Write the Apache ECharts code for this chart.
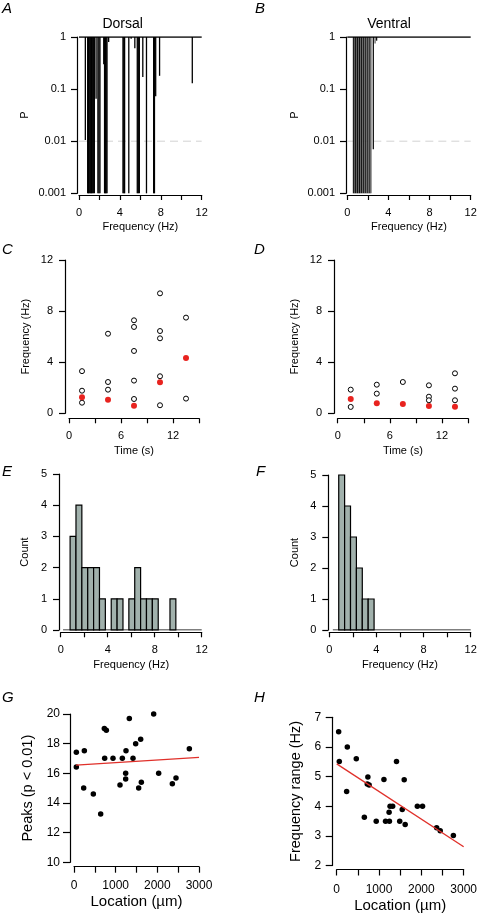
<!DOCTYPE html>
<html>
<head>
<meta charset="utf-8">
<script src="https://cdn.jsdelivr.net/npm/echarts@6/dist/echarts.min.js"></script>
<style>
html,body{margin:0;padding:0;background:#fff;}
#chart{width:480px;height:914px;}
</style>
</head>
<body>
<div id="chart"></div>
<script>
// ---------------- DATA ----------------
// Panel A (Dorsal): frequency (Hz) and P value of each peak line
const dorsalFreq = [0.62, 0.85, 0.92, 1.0, 1.08, 1.15, 1.22, 1.3, 1.4, 1.5, 1.67, 1.85, 1.95, 2.05, 2.42, 2.5, 2.58, 2.66, 2.74, 2.9, 4.3, 4.38, 4.46, 4.87, 5.1, 5.46, 5.7, 5.8, 5.9, 6.24, 6.6, 7.3, 7.38, 7.5, 7.88, 11.08];
const dorsalP    = [0.0105, 0.001, 0.001, 0.001, 0.001, 0.001, 0.001, 0.001, 0.001, 0.001, 0.065, 0.001, 0.001, 0.001, 0.3, 0.001, 0.001, 0.001, 0.001, 0.8, 0.001, 0.001, 0.001, 0.001, 0.93, 0.61, 0.001, 0.001, 0.001, 0.17, 0.001, 0.001, 0.001, 0.073, 0.18, 0.13];
// Panel B (Ventral)
const ventralFreq = [0.6, 0.7, 0.8, 0.9, 1.0, 1.1, 1.2, 1.3, 1.4, 1.5, 1.6, 1.7, 1.8, 1.9, 2.0, 2.1, 2.2, 2.3, 2.53, 2.7, 2.85];
const ventralP    = [0.001, 0.001, 0.001, 0.001, 0.001, 0.001, 0.001, 0.001, 0.001, 0.001, 0.001, 0.001, 0.001, 0.001, 0.001, 0.001, 0.001, 0.001, 0.007, 0.75, 0.85];
const pTicks = [0.001, 0.01, 0.1, 1];
const pThreshold = 0.01;

// Panel C (Dorsal): time (s) vs frequency (Hz)
const cOpenTime = [1.5, 1.5, 1.5, 4.5, 4.5, 4.5, 7.5, 7.5, 7.5, 7.5, 7.5, 10.5, 10.5, 10.5, 10.5, 10.5, 13.5, 13.5];
const cOpenFreq = [3.3, 1.77, 0.83, 6.23, 2.45, 1.85, 7.28, 6.76, 4.88, 2.56, 1.12, 9.39, 6.44, 5.87, 2.9, 0.63, 7.49, 1.15];
const cRedTime  = [1.5, 4.5, 7.5, 10.5, 13.5];
const cRedFreq  = [1.25, 1.07, 0.6, 2.43, 4.33];
// Panel D (Ventral)
const dOpenTime = [1.5, 1.5, 4.5, 4.5, 7.5, 10.5, 10.5, 10.5, 13.5, 13.5, 13.5];
const dOpenFreq = [1.85, 0.5, 2.24, 1.54, 2.45, 2.19, 1.3, 1.02, 3.13, 1.93, 1.02];
const dRedTime  = [1.5, 4.5, 7.5, 10.5, 13.5];
const dRedFreq  = [1.12, 0.78, 0.73, 0.57, 0.52];

// Panels E/F histograms: bin left edges (Hz), bin width, counts
const binWidth = 0.5;
const eBinStart = [0.8, 1.3, 1.8, 2.3, 2.8, 3.3, 3.8, 4.3, 4.8, 5.3, 5.8, 6.3, 6.8, 7.3, 7.8, 8.3, 8.8, 9.3];
const eCounts   = [3, 4, 2, 2, 2, 1, 0, 1, 1, 0, 1, 2, 1, 1, 1, 0, 0, 1];
const fBinStart = [0.8, 1.3, 1.8, 2.3, 2.8, 3.3];
const fCounts   = [5, 4, 3, 2, 1, 1];
const eBaseline = [[0.2, 0], [12, 0]];
const fBaseline = [[0.3, 0], [12, 0]];

// Panel G: location (µm) vs peaks
const gLoc   = [56, 56, 248, 232, 464, 640, 728, 776, 736, 936, 1104, 1160, 1248, 1240, 1240, 1328, 1416, 1480, 1552, 1600, 1616, 1912, 2032, 2360, 2448, 2768];
const gPeaks = [16.43, 17.42, 17.53, 15.01, 14.6, 13.26, 19.03, 18.9, 17.01, 17.01, 15.21, 17.01, 17.53, 16.0, 15.62, 19.69, 17.01, 18.0, 15.01, 18.29, 15.39, 20.0, 16.0, 15.3, 15.69, 17.66];
const gFit = [[48, 16.55], [3000, 17.07]];
// Panel H: location (µm) vs frequency range (Hz)
const hLoc   = [46, 61, 251, 235, 463, 653, 737, 722, 767, 934, 1116, 1154, 1238, 1246, 1261, 1322, 1413, 1489, 1549, 1595, 1618, 1906, 2028, 2362, 2446, 2757];
const hRange = [6.51, 5.51, 6.0, 4.5, 5.6, 3.63, 4.99, 4.75, 4.72, 3.49, 4.9, 3.49, 3.8, 3.49, 4.0, 4.0, 5.51, 3.49, 3.89, 4.89, 3.38, 4.0, 4.0, 3.27, 3.17, 3.01];
const hFit = [[0, 5.43], [3000, 2.63]];

// ---------------- CHART ----------------
const FONT = '"Liberation Sans", Arial, sans-serif';
const zip = (a, b) => a.map((v, i) => [v, b[i]]);

const grids = [
  {left: 79,    top: 37,    width: 122.7, height: 156.3}, // A
  {left: 347.3, top: 37,    width: 123.4, height: 156.3}, // B
  {left: 69,    top: 260,   width: 130,   height: 153.3}, // C
  {left: 337.7, top: 260,   width: 130.3, height: 153.3}, // D
  {left: 60.7,  top: 474,   width: 141,   height: 156},   // E
  {left: 329.3, top: 475,   width: 141.4, height: 155},   // F
  {left: 74,    top: 714,   width: 125,   height: 148.3}, // G
  {left: 336.7, top: 717.3, width: 131.6, height: 148.7}  // H
];

function axis(o) {
  const fs = o.fontSize || 11;
  return Object.assign({
    type: 'value',
    axisLine: {show: true, onZero: false, lineStyle: {color: '#000', width: 1.2}},
    axisTick: {show: true, length: o.tickLen || 5, lineStyle: {color: '#000', width: 1.2}},
    splitLine: {show: false},
    minorTick: {show: false},
    axisLabel: {color: '#000', fontSize: fs, fontFamily: FONT, margin: o.margin || 11,
      formatter: o.fmt, showMinLabel: true, showMaxLabel: true},
    nameLocation: 'middle',
    nameTextStyle: {color: '#000', fontSize: o.nameSize || fs, fontFamily: FONT},
  }, o.extra);
}

const every = n => (v => (Math.abs(v / n - Math.round(v / n)) < 1e-6 ? String(v) : ''));
const logFmt = v => String(Number(Number(v).toPrecision(3)));

const xAxes = [
  axis({extra: {gridIndex: 0, min: 0, max: 12, interval: 2, offset: 1.7, name: 'Frequency (Hz)', nameGap: 26}, fmt: every(4), margin: 12}),
  axis({extra: {gridIndex: 1, min: 0, max: 12, interval: 2, offset: 1.7, name: 'Frequency (Hz)', nameGap: 26}, fmt: every(4), margin: 12}),
  axis({extra: {gridIndex: 2, min: 0, max: 15, interval: 3, offset: 5, name: 'Time (s)', nameGap: 27}, fmt: every(6), margin: 12.5}),
  axis({extra: {gridIndex: 3, min: 0, max: 15, interval: 3, offset: 5, name: 'Time (s)', nameGap: 27}, fmt: every(6), margin: 12.5}),
  axis({extra: {gridIndex: 4, min: 0, max: 12, interval: 2, offset: 2.3, name: 'Frequency (Hz)', nameGap: 27}, fmt: every(4), margin: 12.5}),
  axis({extra: {gridIndex: 5, min: 0, max: 12, interval: 2, offset: 2.3, name: 'Frequency (Hz)', nameGap: 27}, fmt: every(4), margin: 12.5}),
  axis({extra: {gridIndex: 6, min: 0, max: 3000, interval: 500, offset: 4.4, name: 'Location (µm)', nameGap: 28}, fmt: every(1000), margin: 13, fontSize: 12, nameSize: 15, tickLen: 6}),
  axis({extra: {gridIndex: 7, min: 0, max: 3000, interval: 500, offset: 4, name: 'Location (µm)', nameGap: 28.5}, fmt: every(1000), margin: 14, fontSize: 12, nameSize: 15, tickLen: 6})
];

const yAxes = [
  axis({extra: {gridIndex: 0, type: 'log', logBase: 10, min: pTicks[0], max: pTicks[3], offset: 2, name: 'P', nameGap: 46.5}, fmt: logFmt, tickLen: 6}),
  axis({extra: {gridIndex: 1, type: 'log', logBase: 10, min: pTicks[0], max: pTicks[3], offset: 1.3, name: 'P', nameGap: 45.5}, fmt: logFmt, tickLen: 6}),
  axis({extra: {gridIndex: 2, min: 0, max: 12, interval: 4, offset: 4, name: 'Frequency (Hz)', nameGap: 33.5}, tickLen: 6, margin: 12}),
  axis({extra: {gridIndex: 3, min: 0, max: 12, interval: 4, offset: 3.7, name: 'Frequency (Hz)', nameGap: 33.5}, tickLen: 6, margin: 12}),
  axis({extra: {gridIndex: 4, min: 0, max: 5, interval: 1, offset: 1.7, name: 'Count', nameGap: 28.5}, tickLen: 6, margin: 12}),
  axis({extra: {gridIndex: 5, min: 0, max: 5, interval: 1, offset: 1, name: 'Count', nameGap: 27.8}, tickLen: 6, margin: 12}),
  axis({extra: {gridIndex: 6, min: 10, max: 20, interval: 2, offset: 4, name: 'Peaks (p < 0.01)', nameGap: 34.5}, fontSize: 12, nameSize: 14.5, tickLen: 7, margin: 10}),
  axis({extra: {gridIndex: 7, min: 2, max: 7, interval: 1, offset: 4, name: 'Frequency range (Hz)', nameGap: 28.75}, fontSize: 12, nameSize: 14.5, tickLen: 7, margin: 11.5})
];

function pLines(idx, freq, p, colors) {
  return {
    type: 'custom', xAxisIndex: idx, yAxisIndex: idx, z: 3,
    data: zip(freq, p),
    renderItem: (params, api) => {
      const x = api.value(0), pv = api.value(1);
      const a = api.coord([x, 1]);
      const b = api.coord([x, pv]);
      return {type: 'line', shape: {x1: a[0], y1: a[1], x2: b[0], y2: b[1]},
        style: {stroke: colors[params.dataIndex % colors.length], lineWidth: 1.3}};
    }
  };
}
function hLine(idx, data, style, z) {
  return {type: 'line', xAxisIndex: idx, yAxisIndex: idx, data: data, symbol: 'none',
    lineStyle: style, z: z || 2, silent: true, animation: false};
}
function hist(idx, starts, counts) {
  return {
    type: 'custom', xAxisIndex: idx, yAxisIndex: idx, z: 3,
    data: zip(starts, counts),
    renderItem: (params, api) => {
      const s = api.value(0), c = api.value(1);
      if (!c) return null;
      const a = api.coord([s, c]);
      const b = api.coord([s + binWidth, 0]);
      return {type: 'rect', shape: {x: a[0], y: a[1], width: b[0] - a[0], height: b[1] - a[1]},
        style: {fill: '#a1b1ac', stroke: '#000', lineWidth: 1.2}};
    }
  };
}
function openPts(idx, xs, ys) {
  return {type: 'scatter', xAxisIndex: idx, yAxisIndex: idx, data: zip(xs, ys), symbol: 'circle', symbolSize: 5,
    itemStyle: {color: '#fff', borderColor: '#000', borderWidth: 1, opacity: 1}, z: 3};
}
function redPts(idx, xs, ys) {
  return {type: 'scatter', xAxisIndex: idx, yAxisIndex: idx, data: zip(xs, ys), symbol: 'circle', symbolSize: 6,
    itemStyle: {color: '#e8231f', opacity: 1}, z: 4};
}
function blackPts(idx, xs, ys) {
  return {type: 'scatter', xAxisIndex: idx, yAxisIndex: idx, data: zip(xs, ys), symbol: 'circle', symbolSize: 5.5,
    itemStyle: {color: '#000', opacity: 1}, z: 3};
}

const series = [
  hLine(0, [[0, pThreshold], [12, pThreshold]], {color: '#d3d3d3', width: 1, type: [8, 5]}, 1),
  pLines(0, dorsalFreq, dorsalP, ['#000']),
  hLine(0, [[0, 1], [12, 1]], {color: '#000', width: 1.5}, 4),
  hLine(1, [[0, pThreshold], [12, pThreshold]], {color: '#d3d3d3', width: 1, type: [8, 5]}, 1),
  pLines(1, ventralFreq, ventralP, ['#111', '#666']),
  hLine(1, [[0, 1], [12, 1]], {color: '#000', width: 1.5}, 4),
  openPts(2, cOpenTime, cOpenFreq),
  redPts(2, cRedTime, cRedFreq),
  openPts(3, dOpenTime, dOpenFreq),
  redPts(3, dRedTime, dRedFreq),
  hist(4, eBinStart, eCounts),
  hLine(4, eBaseline, {color: '#000', width: 1.2}, 4),
  hist(5, fBinStart, fCounts),
  hLine(5, fBaseline, {color: '#000', width: 1.2}, 4),
  blackPts(6, gLoc, gPeaks),
  hLine(6, gFit, {color: '#e0302a', width: 1.3}, 4),
  blackPts(7, hLoc, hRange),
  hLine(7, hFit, {color: '#e0302a', width: 1.3}, 4)
];

const panelLabels = [
  ['A', 2, 8.5, 15], ['B', 255, 8.5, 15], ['C', 2, 250, 15], ['D', 254, 250, 15],
  ['E', 2, 471.5, 15], ['F', 256, 471.5, 15], ['G', 2, 697.5, 15], ['H', 254, 697.5, 15]
];
const graphic = panelLabels.map(([t, x, y, fs]) => ({
  type: 'text', x: x, y: y,
  style: {text: t, fontSize: fs, fontStyle: 'italic', fontFamily: FONT, fill: '#000', align: 'left', verticalAlign: 'middle'}
})).concat([
  {type: 'text', x: 122.7, y: 23.7, style: {text: 'Dorsal', fontSize: 14, fontFamily: FONT, fill: '#000', align: 'center', verticalAlign: 'middle'}},
  {type: 'text', x: 389, y: 23.7, style: {text: 'Ventral', fontSize: 14, fontFamily: FONT, fill: '#000', align: 'center', verticalAlign: 'middle'}}
]);

const chart = echarts.init(document.getElementById('chart'), null, {renderer: 'canvas'});
chart.setOption({
  animation: false,
  backgroundColor: '#fff',
  grid: grids,
  xAxis: xAxes,
  yAxis: yAxes,
  series: series,
  graphic: graphic
});
</script>
</body>
</html>
